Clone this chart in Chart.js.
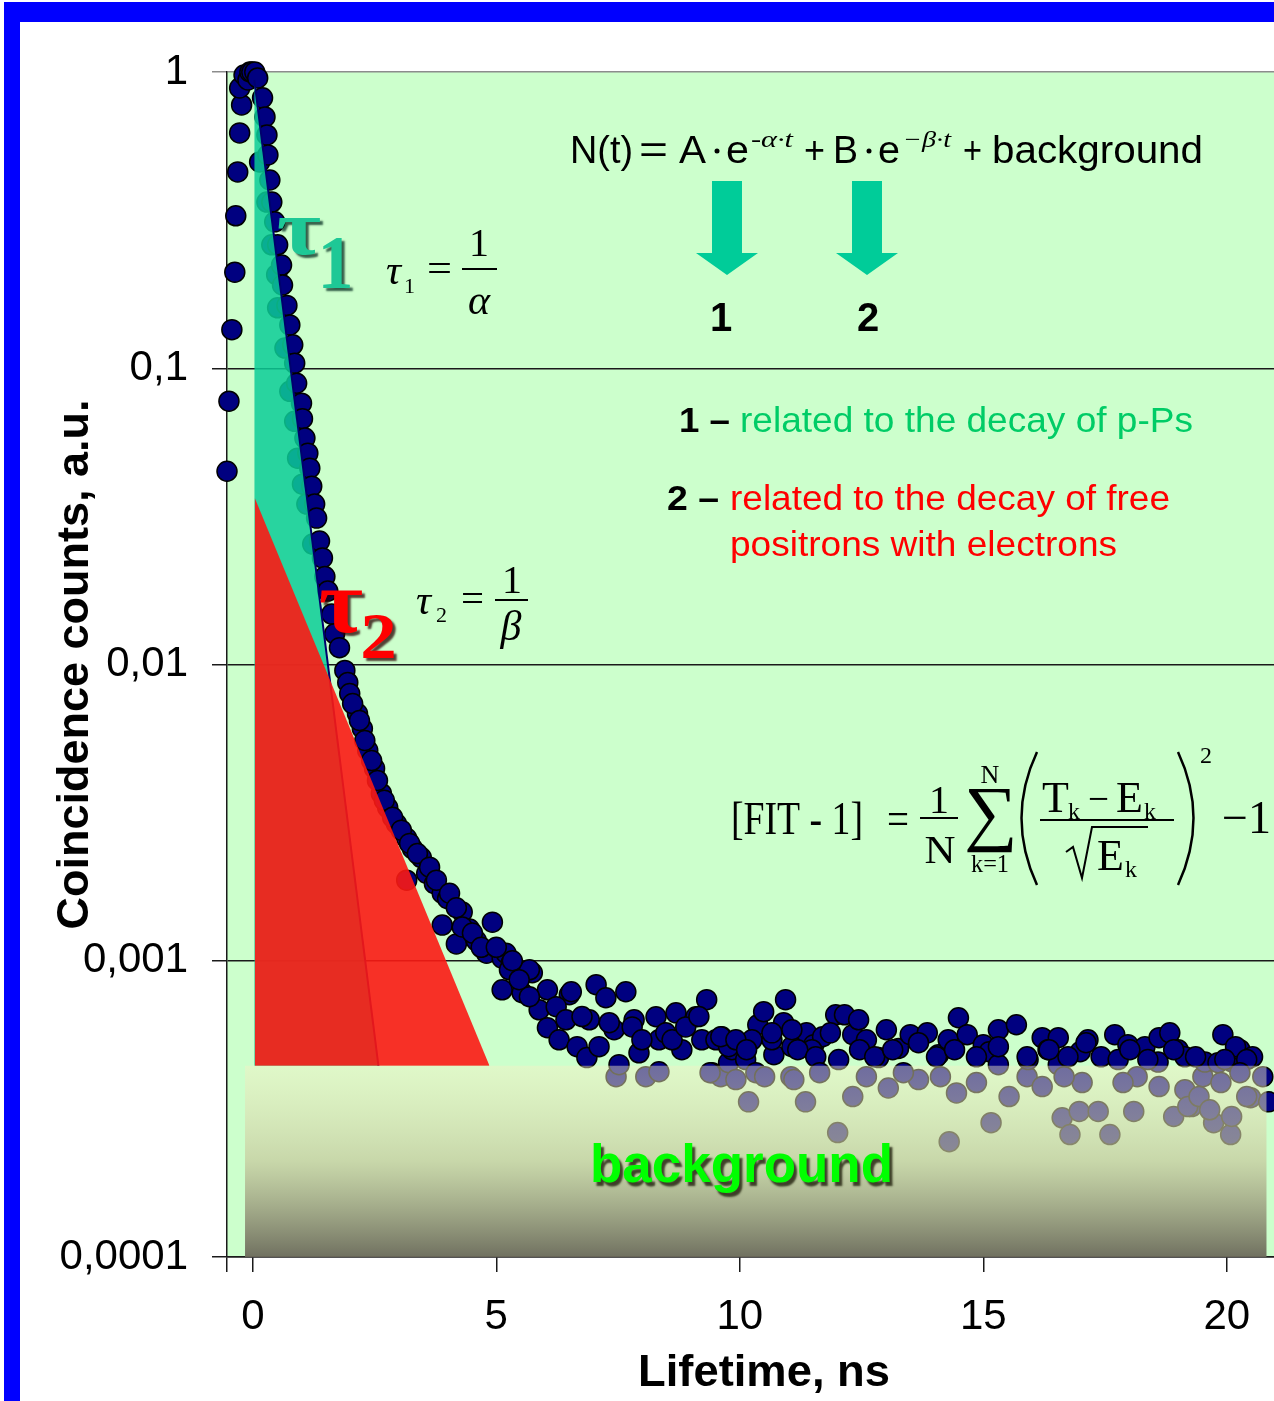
<!DOCTYPE html>
<html>
<head>
<meta charset="utf-8">
<script src="https://cdn.jsdelivr.net/npm/chart.js@4.4.1/dist/chart.umd.min.js"></script>
<style>
  html, body { margin: 0; padding: 0; background: #fff; }
  #wrap { width: 1274px; height: 1401px; }
</style>
</head>
<body>
<div id="wrap"><canvas id="c" width="1274" height="1401"></canvas></div>
<script>
// Lifetime spectrum: time (ns) and normalised counts
const decayTimes = [
  -0.53, -0.49, -0.43, -0.37, -0.35, -0.31, -0.27, -0.23, -0.27, -0.18,
  -0.10, -0.06, -0.02, 0.04, 0.10, 0.14, 0.20, 0.25, 0.29, 0.29,
  0.31, 0.35, 0.39, 0.39, 0.45, 0.49, 0.51, 0.51, 0.59, 0.61,
  0.66, 0.70, 0.76, 0.76, 0.82, 0.86, 0.86, 0.90, 0.92, 1.00,
  1.02, 1.02, 1.07, 1.11, 1.13, 1.17, 1.21, 1.23, 1.27, 1.31,
  1.37, 1.43, 1.48, 1.54, 1.62, 1.68, 1.78, 1.89, 1.95, 1.99,
  2.15, 2.25, 2.36, 2.50, 2.64, 2.77, 2.95, 3.16, 3.16, 3.28,
  3.46, 3.57, 3.73, 3.89, 3.89, 4.00, 4.18, 4.30, 4.45, 4.59,
  4.80, 4.92, 5.12, 5.12, 5.20, 5.31, 5.74, 5.88, 6.05, 6.05,
  6.29, 6.50, 6.54, 6.66, 6.86, 6.91, 7.05, 7.11, 7.25, 7.42,
  7.46, 7.52, 7.66, 7.83, 7.93, 8.07, 8.28, 8.34, 8.34, 8.48,
  8.69, 8.81, 9.10, 9.22, 9.32, 9.43, 9.61, 9.63, 9.77, 9.84,
  10.12, 10.18, 10.33, 10.37, 10.49, 10.70, 10.90, 10.94, 11.05, 11.07,
  11.35, 11.37, 11.52, 11.70, 11.97, 12.01, 12.03, 12.15, 12.32, 12.32,
  12.44, 12.60, 12.85, 13.01, 13.05, 13.26, 13.50, 13.67, 13.85, 14.08,
  14.28, 14.30, 14.45, 14.49, 14.67, 15.00, 15.12, 15.16, 15.31, 15.31,
  15.53, 15.68, 15.90, 15.92, 16.21, 16.33, 16.54, 16.54, 16.62, 16.78,
  16.97, 16.99, 17.03, 17.15, 17.36, 17.42, 17.60, 17.70, 17.77, 17.97,
  18.09, 18.16, 18.32, 18.59, 18.61, 18.83, 18.91, 19.00, 19.14, 19.28,
  19.51, 19.55, 19.73, 19.92, 20.08, 20.12, 20.27, 20.49, 20.53, 20.74,
  20.86,
  // second pass: chain 2-5.7 ns
  2.05, 2.19, 2.30, 2.44, 2.56, 2.70, 2.87, 3.05, 3.22, 3.38,
  3.63, 3.77, 4.04, 4.18, 4.30, 4.51, 4.69, 5.00, 5.27, 5.53, 5.68,
  // second pass: 5-11.5 ns
  5.33, 5.47, 5.68, 6.23, 6.43, 6.76, 7.32, 7.79, 7.99, 8.61,
  8.89, 9.51, 9.77, 10.25, 10.66, 11.07, 11.48,
  // second pass: tail band
  9.16, 9.61, 9.92, 10.14, 10.66, 11.19, 11.56, 11.86, 12.46, 12.77,
  13.14, 13.67, 14.04, 14.41, 14.86, 15.31, 15.90, 16.35, 16.74, 17.11,
  18.01, 18.38, 18.91, 19.36, 19.82, 20.18, 20.41, 19.96,
  // second pass: tail, low side
  9.39, 9.92, 10.51, 11.11, 11.64, 12.60, 13.36, 14.12, 14.86, 16.21,
  16.66, 17.87, 18.61, 19.14, 19.88, 20.27, 19.20, 19.43, 19.65, 20.10, 20.41
];
const decayCounts = [
  0.0449, 0.0774, 0.135, 0.211, 0.327, 0.460, 0.623, 0.774, 0.883, 0.977,
  0.94, 1.0, 1.0, 1.0, 0.955, 0.497, 0.818, 0.705, 0.613, 0.364,
  0.525, 0.432, 0.364, 0.261, 0.312, 0.207, 0.261, 0.160, 0.223, 0.191,
  0.117, 0.163, 0.140, 0.0836, 0.120, 0.104, 0.0662, 0.0890, 0.0497, 0.0762,
  0.0676, 0.0406, 0.0581, 0.0348, 0.0517, 0.0460, 0.0400, 0.0255, 0.0348, 0.0312,
  0.0261, 0.0229, 0.0198, 0.0177, 0.0148, 0.0127, 0.0114, 0.00955, 0.00870, 0.00798,
  0.00683, 0.00608, 0.00513, 0.00446, 0.00367, 0.00329, 0.00290, 0.00259, 0.00187, 0.00239,
  0.00223, 0.00197, 0.00182, 0.00169, 0.00132, 0.00162, 0.00114, 0.00146, 0.00128, 0.00117,
  0.00106, 0.00135, 0.00102, 0.000798, 0.00106, 0.000985, 0.000911, 0.000683, 0.000798, 0.000594,
  0.000541, 0.000768, 0.000786, 0.000513, 0.000471, 0.000632, 0.000830, 0.000513, 0.000750, 0.000585,
  0.000406, 0.000446, 0.000786, 0.000632, 0.000489, 0.000406, 0.000647, 0.000422, 0.000541, 0.000571,
  0.000667, 0.000501, 0.000647, 0.000541, 0.000739, 0.000419, 0.000406, 0.000554, 0.000453, 0.000501,
  0.000464, 0.000334, 0.000419, 0.000608, 0.000673, 0.000482, 0.000618, 0.000739, 0.000406, 0.000513,
  0.000334, 0.000571, 0.000521, 0.000554, 0.000657, 0.000263, 0.000464, 0.000657, 0.000563, 0.000348,
  0.000632, 0.000541, 0.000471, 0.000585, 0.000372, 0.000506, 0.000563, 0.000397, 0.000571, 0.000482,
  0.000541, 0.000245, 0.000358, 0.000642, 0.000563, 0.000521, 0.000493, 0.000284, 0.000585, 0.000446,
  0.000348, 0.000608, 0.000406, 0.000464, 0.000550, 0.000501, 0.000550, 0.000446, 0.000295, 0.000259,
  0.000310, 0.000493, 0.000388, 0.000541, 0.000310, 0.000474, 0.000259, 0.000563, 0.000464, 0.000521,
  0.000310, 0.000406, 0.000513, 0.000455, 0.000550, 0.000571, 0.000298, 0.000501, 0.000474, 0.000322,
  0.000406, 0.000455, 0.000284, 0.000563, 0.000259, 0.000455, 0.000501, 0.000345, 0.000474, 0.000406,
  0.000334,
  0.00738, 0.00647, 0.00554, 0.00474, 0.00406, 0.00348, 0.00305, 0.00276, 0.00249, 0.00230,
  0.00207, 0.00187, 0.00169, 0.00151, 0.00130, 0.00124, 0.00111, 0.00111, 0.000932, 0.000780, 0.000932,
  0.00100, 0.000863, 0.000756, 0.000700, 0.000632, 0.000648, 0.000618, 0.000598, 0.000541, 0.000541,
  0.000598, 0.000541, 0.000513, 0.000541, 0.000541, 0.000585, 0.000501,
  0.000648, 0.000554, 0.000541, 0.000501, 0.000571, 0.000501, 0.000474, 0.000571, 0.000501, 0.000474,
  0.000501, 0.000529, 0.000474, 0.000501, 0.000474, 0.000513, 0.000474, 0.000501, 0.000474, 0.000529,
  0.000501, 0.000464, 0.000501, 0.000474, 0.000453, 0.000513, 0.000464, 0.000464,
  0.000419, 0.000397, 0.000406, 0.000397, 0.000419, 0.000406, 0.000419, 0.000406, 0.000388, 0.000376,
  0.000406, 0.000388, 0.000376, 0.000367, 0.000388, 0.000419, 0.000322, 0.000348, 0.000314, 0.000298, 0.000348
];

// the two exponential components (straight lines on the log axis)
const tau1Times = [0.03, 2.58];
const tau1Counts = [0.94, 0.000442];
const tau2Times = [0.04, 4.86];
const tau2Counts = [0.0365, 0.000442];

// background level band
const backgroundLevel = 0.000442;
const backgroundSpan = [-0.16, 20.82];

// axes
const xRange = [-0.53, 20.97];
const xTicks = [0, 5, 10, 15, 20];
const yTicks = [1, 0.1, 0.01, 0.001, 0.0001];
const yTickLabels = ['1', '0,1', '0,01', '0,001', '0,0001'];

const SANS = '"Liberation Sans", Arial, sans-serif';
const SERIF = '"Liberation Serif", "Times New Roman", serif';

function pts(xs, ys) {
  return xs.map((x, i) => ({ x: x, y: ys[i] }));
}

// text helper: optional width squeezes/stretches the string horizontally
function put(c, s, x, y, font, color, w, align) {
  c.save();
  c.font = font;
  c.fillStyle = color;
  c.textAlign = align || 'left';
  c.textBaseline = 'alphabetic';
  c.translate(x, y);
  if (w) c.scale(w / c.measureText(s).width, 1);
  c.fillText(s, 0, 0);
  c.restore();
}

// fit the ink of a glyph into a box
function putBox(c, s, x, top, w, h, font, color) {
  c.save();
  c.font = font;
  c.fillStyle = color;
  c.textAlign = 'left';
  c.textBaseline = 'alphabetic';
  const m = c.measureText(s);
  const bw = m.actualBoundingBoxLeft + m.actualBoundingBoxRight;
  const bh = m.actualBoundingBoxAscent + m.actualBoundingBoxDescent;
  c.translate(x, top);
  c.scale(w / bw, h / bh);
  c.fillText(s, m.actualBoundingBoxLeft, m.actualBoundingBoxAscent);
  c.restore();
}

function arrowDown(c, cx, top, headY, tipY) {
  c.beginPath();
  c.moveTo(cx - 15, top);
  c.lineTo(cx + 15, top);
  c.lineTo(cx + 15, headY);
  c.lineTo(cx + 31, headY);
  c.lineTo(cx, tipY);
  c.lineTo(cx - 31, headY);
  c.lineTo(cx - 15, headY);
  c.closePath();
  c.fill();
}

function hline(c, x1, x2, y, w) {
  c.beginPath();
  c.moveTo(x1, y);
  c.lineTo(x2, y);
  c.lineWidth = w || 2;
  c.strokeStyle = '#000';
  c.stroke();
}

function backgroundFill(context) {
  const chart = context.chart;
  const area = chart.chartArea;
  if (!area) return 'rgba(198,198,155,0.7)';
  const top = chart.scales.y.getPixelForValue(backgroundLevel);
  const g = chart.ctx.createLinearGradient(0, top, 0, area.bottom);
  g.addColorStop(0, 'rgba(246,240,196,0.45)');
  g.addColorStop(0.5, 'rgba(198,198,155,0.7)');
  g.addColorStop(1, 'rgba(107,105,90,0.95)');
  return g;
}

const framePlugin = {
  id: 'frame',
  beforeDraw(chart) {
    const c = chart.ctx, a = chart.chartArea;
    c.save();
    c.fillStyle = '#fff';
    c.fillRect(0, 0, chart.width, chart.height);
    c.fillStyle = '#ccffcc';
    c.fillRect(a.left, a.top, a.right - a.left, a.bottom - a.top);
    c.restore();
  },
  afterDraw(chart) {
    const c = chart.ctx;
    c.save();
    c.fillStyle = '#0000ff';
    c.fillRect(4, 2, chart.width - 4, 20);
    c.fillRect(4, 2, 16, chart.height - 2);
    c.restore();
  }
};

const notesPlugin = {
  id: 'notes',
  afterDatasetsDraw(chart) {
    const c = chart.ctx;
    c.save();

    // N(t) formula
    const f = '38px ' + SANS;
    put(c, 'N(t)', 570, 163, f, '#000', 63);
    put(c, '=', 639, 163, f, '#000', 29);
    put(c, 'A', 679, 163, f, '#000', 27);
    put(c, 'e', 726, 163, f, '#000', 23);
    put(c, '-α·t', 751, 147, 'italic 23px ' + SERIF, '#000', 42);
    put(c, '+', 804, 163, f, '#000', 21);
    put(c, 'B', 833, 163, f, '#000', 25);
    put(c, 'e', 878, 163, f, '#000', 22);
    put(c, '−β·t', 903, 147, 'italic 23px ' + SERIF, '#000', 48);
    put(c, '+', 963, 163, f, '#000', 19);
    put(c, 'background', 992, 163, f, '#000', 211);
    c.fillStyle = '#000';
    [717, 869].forEach(x => { c.beginPath(); c.arc(x, 151, 2.5, 0, Math.PI * 2); c.fill(); });

    // arrows and component numbers
    c.fillStyle = '#00cc99';
    arrowDown(c, 727, 181, 253, 275);
    arrowDown(c, 867, 181, 253, 275);
    put(c, '1', 721, 331, 'bold 40px ' + SANS, '#000', null, 'center');
    put(c, '2', 868, 331, 'bold 40px ' + SANS, '#000', null, 'center');

    // explanations
    const fb = 'bold 35px ' + SANS, fr = '35px ' + SANS;
    put(c, '1 –', 679, 432, fb, '#000', 51);
    put(c, 'related to the decay of p-Ps', 740, 432, fr, '#00cc66', 453);
    put(c, '2 –', 667, 510, fb, '#000', 52);
    put(c, 'related to the decay of free', 730, 510, fr, '#ff0000', 440);
    put(c, 'positrons with electrons', 730, 556, fr, '#ff0000', 387);

    // tau labels with shadow
    c.save();
    c.shadowColor = 'rgba(0,40,30,0.75)';
    c.shadowOffsetX = 3; c.shadowOffsetY = 3; c.shadowBlur = 2;
    putBox(c, 'τ', 278, 218, 42, 37, 'bold 80px ' + SERIF, '#1ec896');
    putBox(c, '1', 323, 238, 27, 50, 'bold 80px ' + SERIF, '#1ec896');
    c.shadowColor = 'rgba(40,0,0,0.75)';
    putBox(c, 'τ', 320, 590, 42, 43, 'bold 80px ' + SERIF, '#ff0000');
    putBox(c, '2', 363, 614, 31, 44, 'bold 80px ' + SERIF, '#ff0000');
    c.restore();

    // tau definitions
    const fi = 'italic 42px ' + SERIF, fn = '40px ' + SERIF, fs = '22px ' + SERIF;
    put(c, 'τ', 386, 284, fi, '#000');
    put(c, '1', 404, 293, fs, '#000');
    put(c, '=', 427, 282, fn, '#000', 25);
    put(c, '1', 479, 256, fn, '#000', null, 'center');
    hline(c, 462, 497, 269, 2);
    put(c, 'α', 479, 314, fi, '#000', null, 'center');

    put(c, 'τ', 416, 614, fi, '#000');
    put(c, '2', 436, 622, fs, '#000');
    put(c, '=', 461, 612, fn, '#000', 23);
    put(c, '1', 512, 593, fn, '#000', null, 'center');
    hline(c, 495, 528, 600, 2);
    put(c, 'β', 511, 640, fi, '#000', null, 'center');

    // goodness of fit
    const fF = '46px ' + SERIF, fk = '24px ' + SERIF, fE = '44px ' + SERIF;
    put(c, '[FIT - 1]', 731, 834, fF, '#000', 132);
    put(c, '=', 887, 834, fF, '#000', 22);
    put(c, '1', 939, 813, fn, '#000', null, 'center');
    hline(c, 920, 958, 818, 2);
    put(c, 'N', 940, 863, fn, '#000', 31, 'center');
    putBox(c, '∑', 967, 788, 46, 65, '80px ' + SERIF, '#000');
    put(c, 'N', 990, 783, '26px ' + SERIF, '#000', null, 'center');
    put(c, 'k=1', 990, 872, '26px ' + SERIF, '#000', 38, 'center');
    c.lineWidth = 2.5;
    c.strokeStyle = '#000';
    c.beginPath(); c.moveTo(1037, 752); c.quadraticCurveTo(1006, 818, 1037, 885); c.stroke();
    c.beginPath(); c.moveTo(1178, 752); c.quadraticCurveTo(1209, 818, 1178, 885); c.stroke();
    put(c, 'T', 1042, 812, fE, '#000');
    put(c, 'k', 1068, 819, fk, '#000');
    put(c, '−', 1088, 812, fn, '#000', 21);
    put(c, 'E', 1116, 812, fE, '#000');
    put(c, 'k', 1144, 819, fk, '#000');
    hline(c, 1040, 1174, 820, 2);
    c.lineWidth = 2;
    c.beginPath();
    c.moveTo(1066, 852); c.lineTo(1073, 847); c.lineTo(1082, 878); c.lineTo(1092, 827); c.lineTo(1148, 827);
    c.stroke();
    put(c, 'E', 1097, 870, fE, '#000');
    put(c, 'k', 1125, 877, fk, '#000');
    put(c, '2', 1200, 763, fk, '#000');
    put(c, '−1', 1222, 833, fF, '#000', 49);

    // background label
    c.save();
    c.shadowColor = 'rgba(40,40,20,0.85)';
    c.shadowOffsetX = 3; c.shadowOffsetY = 4; c.shadowBlur = 2;
    put(c, 'background', 590, 1182, 'bold 54px ' + SANS, '#00ff00', 303);
    c.restore();

    // x-axis title (sits right of the plot centre in the original)
    put(c, 'Lifetime, ns', 764, 1386, 'bold 44px ' + SANS, '#000', 252, 'center');

    c.restore();
  }
};

const lineBase = { type: 'line', showLine: true, pointRadius: 0, pointHoverRadius: 0, tension: 0 };

new Chart(document.getElementById('c'), {
  type: 'scatter',
  data: {
    datasets: [
      Object.assign({}, lineBase, {
        label: 'background',
        data: pts(backgroundSpan, [backgroundLevel, backgroundLevel]),
        fill: { value: yTicks[yTicks.length - 1] },
        backgroundColor: backgroundFill,
        borderWidth: 0,
        order: 1
      }),
      Object.assign({}, lineBase, {
        label: 'τ2',
        data: pts(tau2Times, tau2Counts),
        fill: { value: backgroundLevel },
        backgroundColor: 'rgba(252,25,20,0.9)',
        borderWidth: 0,
        order: 2
      }),
      Object.assign({}, lineBase, {
        label: 'τ1',
        data: pts(tau1Times, tau1Counts),
        fill: { value: backgroundLevel },
        backgroundColor: 'rgba(10,205,150,0.85)',
        borderColor: '#00006e',
        borderWidth: 2,
        order: 3
      }),
      {
        label: 'N(t)',
        data: pts(decayTimes, decayCounts),
        pointRadius: 10,
        pointHoverRadius: 10,
        backgroundColor: '#000080',
        borderColor: '#000',
        borderWidth: 1.5,
        clip: false,
        order: 4
      }
    ]
  },
  options: {
    responsive: false,
    animation: false,
    events: [],
    layout: { autoPadding: false, padding: { left: 0, top: 72, right: 0, bottom: 0 } },
    plugins: { legend: { display: false }, tooltip: { enabled: false } },
    scales: {
      x: {
        type: 'linear',
        min: xRange[0],
        max: xRange[1],
        afterBuildTicks: (axis) => { axis.ticks = [xRange[0]].concat(xTicks).map(v => ({ value: v })); },
        afterFit: (axis) => { axis.height = 144; axis.paddingLeft = 0; axis.paddingRight = 0; },
        ticks: {
          font: { family: SANS, size: 42 },
          color: '#000',
          padding: 20,
          maxRotation: 0,
          autoSkip: false,
          callback: (v) => (v === xRange[0] ? '' : String(v))
        },
        grid: { drawOnChartArea: false, drawTicks: true, tickLength: 15, color: '#1a1a1a', lineWidth: 1.5 },
        border: { display: true, color: '#1a1a1a', width: 1.5 },
        title: { display: false }
      },
      y: {
        type: 'logarithmic',
        min: yTicks[yTicks.length - 1],
        max: yTicks[0],
        afterBuildTicks: (axis) => { axis.ticks = yTicks.map(v => ({ value: v })); },
        afterFit: (axis) => { axis.width = 227; },
        ticks: {
          font: { family: SANS, size: 42 },
          color: '#000',
          padding: 24,
          autoSkip: false,
          callback: (v) => {
            const i = yTicks.indexOf(v);
            return i < 0 ? '' : yTickLabels[i];
          }
        },
        grid: {
          drawOnChartArea: true,
          drawTicks: true,
          tickLength: 15,
          lineWidth: 1.5,
          color: (ctx) => (ctx.tick && ctx.tick.value === 1 ? '#8c8c8c' : '#1a1a1a')
        },
        border: { display: true, color: '#1a1a1a', width: 1.5 },
        title: {
          display: true,
          text: 'Coincidence counts, a.u.',
          color: '#000',
          font: { family: SANS, size: 45, weight: 'bold', lineHeight: 1 },
          padding: { top: 53, bottom: 0 }
        }
      }
    }
  },
  plugins: [framePlugin, notesPlugin]
});
</script>
</body>
</html>
